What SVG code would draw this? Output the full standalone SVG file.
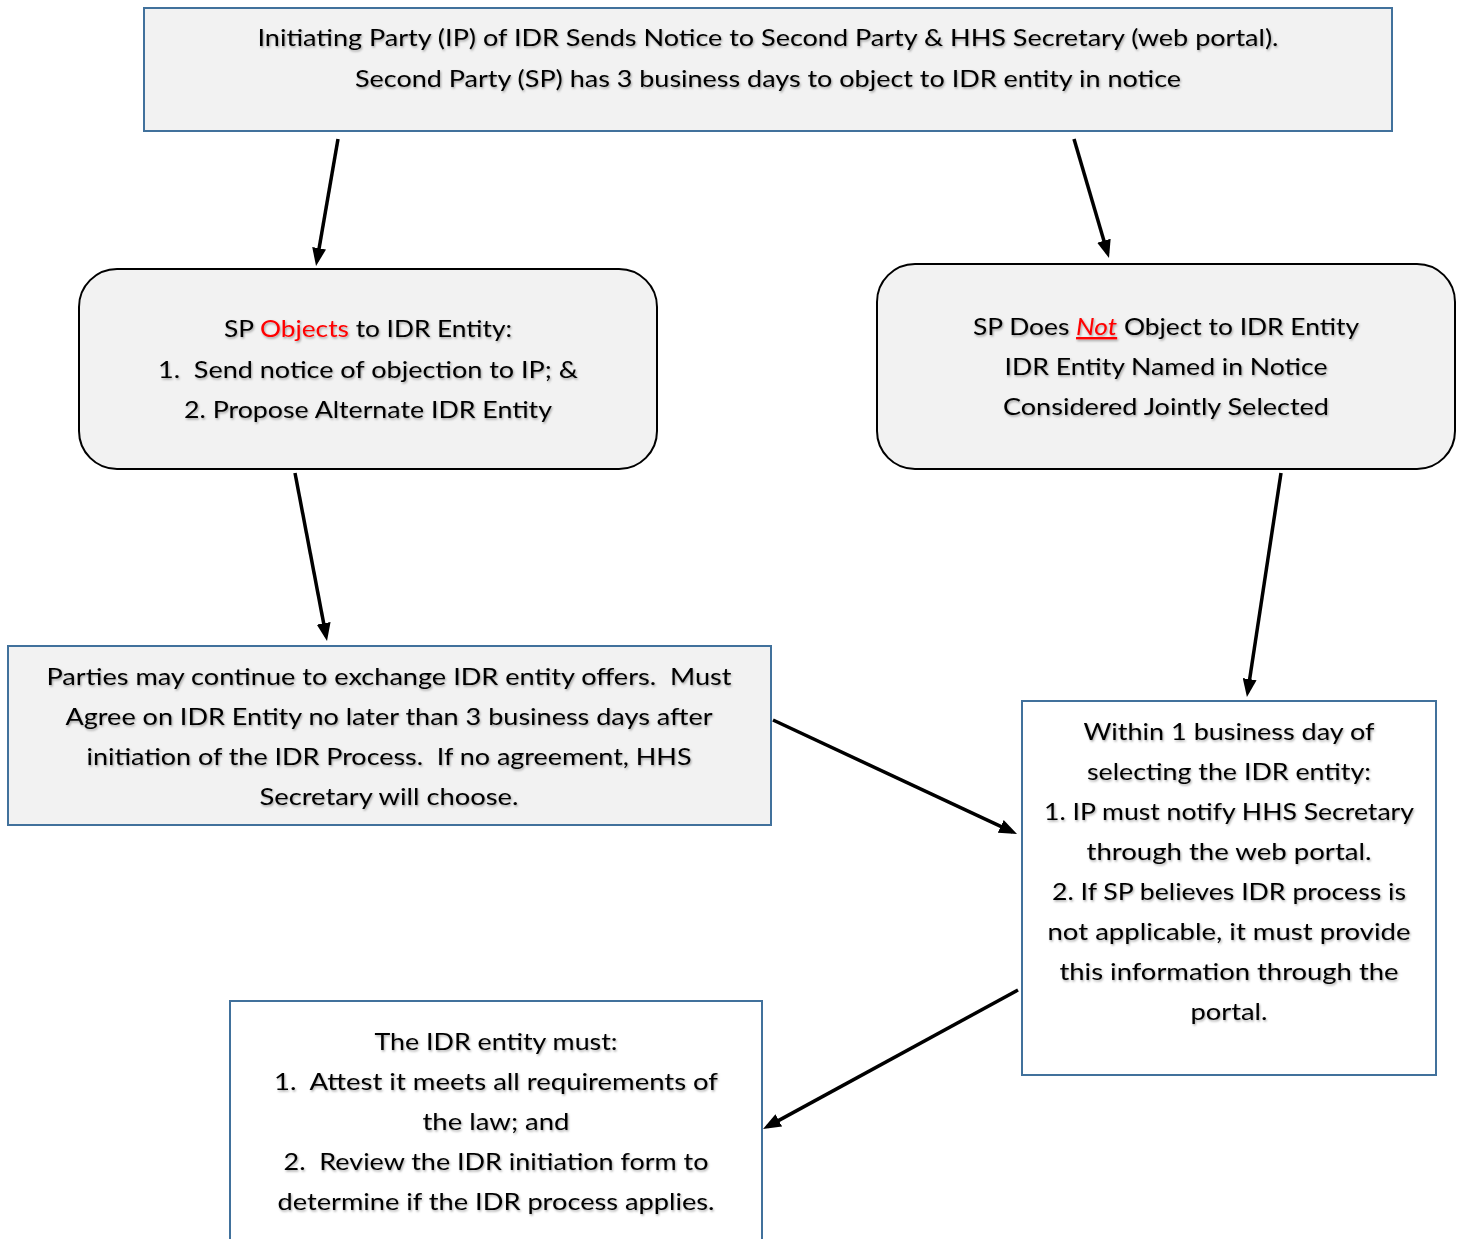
<svg xmlns="http://www.w3.org/2000/svg" width="1457" height="1239" viewBox="0 0 1457 1239">
<style>
  .bluebox { fill: #f2f2f2; stroke: #41719c; stroke-width: 2; }
  .whitebox { fill: #ffffff; stroke: #41719c; stroke-width: 2; }
  .roundbox { fill: #f2f2f2; stroke: #000000; stroke-width: 2; }
  .t { font-family: Lato, "Open Sans", "Liberation Sans", sans-serif; font-size: 23.5px; fill: #000; text-anchor: middle; white-space: pre; filter: url(#shadow); }
  .red { fill: #ff0000; }
  .conn { stroke: #000; stroke-width: 3.5; fill: none; marker-end: url(#arrow); }
</style>
<defs>
  <marker id="arrow" markerUnits="userSpaceOnUse" markerWidth="18" markerHeight="14" refX="13" refY="7" orient="auto">
    <path d="M0,0 L18,7 L0,14 z" fill="#000"/>
  </marker>
  <filter id="shadow" x="-5%" y="-20%" width="110%" height="150%">
    <feDropShadow dx="1" dy="1.5" stdDeviation="0.8" flood-color="#000" flood-opacity="0.35"/>
  </filter>
</defs>
<rect width="1457" height="1239" fill="#ffffff"/>

<g id="n-top">
  <rect class="bluebox" x="144" y="8" width="1248" height="123"/>
  <text class="t" x="768" y="46" textLength="1021" lengthAdjust="spacingAndGlyphs">Initiating Party (IP) of IDR Sends Notice to Second Party &amp; HHS Secretary (web portal).</text>
  <text class="t" x="768" y="87" textLength="826" lengthAdjust="spacingAndGlyphs">Second Party (SP) has 3 business days to object to IDR entity in notice</text>
</g>

<g id="n-objects">
  <rect class="roundbox" x="79" y="269" width="578" height="200" rx="38" ry="38"/>
  <text class="t" x="368" y="337" textLength="288" lengthAdjust="spacingAndGlyphs">SP <tspan class="red">Objects</tspan> to IDR Entity:</text>
  <text class="t" x="368" y="378" textLength="420" lengthAdjust="spacingAndGlyphs">1.  Send notice of objection to IP; &amp;</text>
  <text class="t" x="368" y="418" textLength="368" lengthAdjust="spacingAndGlyphs">2. Propose Alternate IDR Entity</text>
</g>

<g id="n-notobject">
  <rect class="roundbox" x="877" y="264" width="578" height="205" rx="38" ry="38"/>
  <text class="t" x="1166" y="335" textLength="386" lengthAdjust="spacingAndGlyphs">SP Does <tspan class="red" font-style="italic" text-decoration="underline">Not</tspan> Object to IDR Entity</text>
  <text class="t" x="1166" y="375" textLength="323" lengthAdjust="spacingAndGlyphs">IDR Entity Named in Notice</text>
  <text class="t" x="1166" y="415" textLength="326" lengthAdjust="spacingAndGlyphs">Considered Jointly Selected</text>
</g>

<g id="n-exchange">
  <rect class="bluebox" x="8" y="646" width="763" height="179"/>
  <text class="t" x="389" y="685" textLength="685" lengthAdjust="spacingAndGlyphs">Parties may continue to exchange IDR entity offers.  Must</text>
  <text class="t" x="389" y="725" textLength="647" lengthAdjust="spacingAndGlyphs">Agree on IDR Entity no later than 3 business days after</text>
  <text class="t" x="389" y="765" textLength="605" lengthAdjust="spacingAndGlyphs">initiation of the IDR Process.  If no agreement, HHS</text>
  <text class="t" x="389" y="805" textLength="259" lengthAdjust="spacingAndGlyphs">Secretary will choose.</text>
</g>

<g id="n-within">
  <rect class="whitebox" x="1022" y="701" width="414" height="374"/>
  <text class="t" x="1229" y="740" textLength="291" lengthAdjust="spacingAndGlyphs">Within 1 business day of</text>
  <text class="t" x="1229" y="780" textLength="284" lengthAdjust="spacingAndGlyphs">selecting the IDR entity:</text>
  <text class="t" x="1229" y="820" textLength="370" lengthAdjust="spacingAndGlyphs">1. IP must notify HHS Secretary</text>
  <text class="t" x="1229" y="860" textLength="285" lengthAdjust="spacingAndGlyphs">through the web portal.</text>
  <text class="t" x="1229" y="900" textLength="354" lengthAdjust="spacingAndGlyphs">2. If SP believes IDR process is</text>
  <text class="t" x="1229" y="940" textLength="363" lengthAdjust="spacingAndGlyphs">not applicable, it must provide</text>
  <text class="t" x="1229" y="980" textLength="339" lengthAdjust="spacingAndGlyphs">this information through the</text>
  <text class="t" x="1229" y="1020" textLength="77" lengthAdjust="spacingAndGlyphs">portal.</text>
</g>

<g id="n-entity">
  <rect class="whitebox" x="230" y="1001" width="532" height="250"/>
  <text class="t" x="496" y="1050" textLength="243" lengthAdjust="spacingAndGlyphs">The IDR entity must:</text>
  <text class="t" x="496" y="1090" textLength="444" lengthAdjust="spacingAndGlyphs">1.  Attest it meets all requirements of</text>
  <text class="t" x="496" y="1130" textLength="147" lengthAdjust="spacingAndGlyphs">the law; and</text>
  <text class="t" x="496" y="1170" textLength="425" lengthAdjust="spacingAndGlyphs">2.  Review the IDR initiation form to</text>
  <text class="t" x="496" y="1210" textLength="437" lengthAdjust="spacingAndGlyphs">determine if the IDR process applies.</text>
</g>

<g id="connectors">
  <line class="conn" x1="338" y1="139" x2="316.9" y2="261.1"/>
  <line class="conn" x1="1074" y1="139" x2="1107.6" y2="253.2"/>
  <line class="conn" x1="295" y1="473" x2="326.1" y2="636.1"/>
  <line class="conn" x1="1281" y1="473" x2="1247.7" y2="692"/>
  <line class="conn" x1="773" y1="720" x2="1012.5" y2="831.9"/>
  <line class="conn" x1="1018" y1="990" x2="767.4" y2="1126.6"/>
</g>
</svg>
